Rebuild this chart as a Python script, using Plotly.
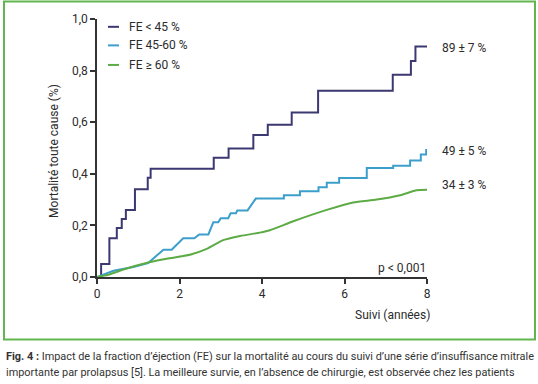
import plotly.graph_objects as go

# ---------------- data ----------------
series_names = ["FE < 45 %", "FE 45-60 %", "FE ≥ 60 %"]
series_colors = ["#3b3872", "#3c9fcb", "#5cab45"]

dark_x = [0, 0.1, 0.3, 0.48, 0.6, 0.7, 0.92, 1.23, 1.3, 2.83, 3.19, 3.79, 4.14, 4.72, 5.36, 7.17, 7.61, 7.72, 8.0]
dark_y = [0, 0.05, 0.15, 0.19, 0.225, 0.26, 0.34, 0.385, 0.42, 0.462, 0.498, 0.55, 0.59, 0.638, 0.722, 0.784, 0.837, 0.893, 0.893]

blue_x = [0, 0.2, 0.4, 0.88, 1.24, 1.61, 1.81, 2.09, 2.36, 2.48, 2.70, 2.82, 2.94, 3.0, 3.18, 3.24, 3.37, 3.40, 3.65,
          3.85, 4.53, 4.53, 4.92, 4.92, 5.37, 5.37, 5.57, 5.57, 5.87, 5.87, 6.54, 6.54, 7.18, 7.18, 7.59, 7.59, 7.85,
          7.85, 7.98, 7.98]
blue_y = [0, 0.012, 0.024, 0.039, 0.054, 0.106, 0.106, 0.150, 0.150, 0.165, 0.165, 0.212, 0.212, 0.228, 0.228, 0.247,
          0.247, 0.258, 0.258, 0.304, 0.304, 0.317, 0.317, 0.332, 0.332, 0.348, 0.348, 0.365, 0.365, 0.384, 0.384,
          0.422, 0.422, 0.431, 0.431, 0.452, 0.452, 0.475, 0.475, 0.496]

green_x = [0, 0.3, 0.64, 1.24, 1.69, 2.25, 2.66, 3.06, 3.47, 3.95, 4.19, 4.76, 5.57, 6.21, 6.78, 7.35, 7.75, 8.0]
green_y = [0, 0.010, 0.029, 0.056, 0.071, 0.086, 0.109, 0.143, 0.159, 0.172, 0.181, 0.216, 0.26, 0.289, 0.300, 0.317,
           0.336, 0.338]

end_labels = ["89 ± 7 %", "49 ± 5 %", "34 ± 3 %"]
end_label_y = [0.886, 0.4875, 0.355]

x_ticks = [0, 2, 4, 6, 8]
x_ticktext = ["0", "2", "4", "6", "8"]
y_ticks = [0, 0.2, 0.4, 0.6, 0.8, 1.0]
y_ticktext = ["0,0", "0,2", "0,4", "0,6", "0,8", "1,0"]

x_title = "Suivi (années)"
y_title = "Mortalité toute cause (%)"
p_text = "p < 0,001"
caption1 = ("<b>Fig. 4 :</b> Impact de la fraction d’éjection (FE) sur la mortalité au cours du suivi d’une série "
            "d’insuffisance mitrale")
caption2 = ("importante par prolapsus [5]. La meilleure survie, en l’absence de chirurgie, est observée chez les "
            "patients")

# ---------------- figure ----------------
W, H = 538, 384
L, R, T, B = 97, 427, 13, 277  # plot area in pixels


def px(x):
    return (x - L) / (R - L)


def py(y):
    return (B - y) / (B - T)


FONT = "Roboto"
TXT = "#2b2b2b"

fig = go.Figure()
fig.add_trace(go.Scatter(x=dark_x, y=dark_y, mode="lines", line=dict(color=series_colors[0], width=2, shape="hv"),
                         name=series_names[0], cliponaxis=False))
fig.add_trace(go.Scatter(x=blue_x, y=blue_y, mode="lines", line=dict(color=series_colors[1], width=2),
                         name=series_names[1], cliponaxis=False))
fig.add_trace(go.Scatter(x=green_x, y=green_y, mode="lines",
                         line=dict(color=series_colors[2], width=2, shape="spline", smoothing=0.6),
                         name=series_names[2], cliponaxis=False))

annotations = []
shapes = []

# manual legend
for i, (nm, col) in enumerate(zip(series_names, series_colors)):
    yy = [21, 40, 60][i]
    shapes.append(dict(type="line", xref="paper", yref="paper", x0=px(108), x1=px(119), y0=py(yy), y1=py(yy),
                       line=dict(color=col, width=2)))
    annotations.append(dict(xref="paper", yref="paper", x=px(127), y=py(yy), text=nm, showarrow=False,
                            xanchor="left", yanchor="middle", font=dict(family=FONT, size=12, color=TXT)))

# end labels
for lab, yv in zip(end_labels, end_label_y):
    annotations.append(dict(xref="paper", yref="y", x=px(440), y=yv, text=lab, showarrow=False,
                            xanchor="left", yanchor="middle", font=dict(family=FONT, size=12, color=TXT)))

annotations.append(dict(xref="paper", yref="paper", x=px(428), y=py(268), text=p_text, showarrow=False,
                        xanchor="right", yanchor="middle", font=dict(family=FONT, size=12, color=TXT)))
annotations.append(dict(xref="paper", yref="paper", x=px(432), y=py(316), text=x_title, showarrow=False,
                        xanchor="right", yanchor="middle", font=dict(family=FONT, size=12, color=TXT)))
annotations.append(dict(xref="paper", yref="paper", x=px(54), y=py(148), text=y_title, showarrow=False,
                        textangle=-90, xanchor="center", yanchor="middle",
                        font=dict(family=FONT, size=12, color=TXT)))

annotations.append(dict(xref="paper", yref="paper", x=px(4), y=py(358), text=caption1, showarrow=False,
                        xanchor="left", yanchor="middle", font=dict(family=FONT, size=10.9, color="#333333")))
annotations.append(dict(xref="paper", yref="paper", x=px(4), y=py(375), text=caption2, showarrow=False,
                        xanchor="left", yanchor="middle", font=dict(family=FONT, size=10.9, color="#333333")))

# green frame
shapes.append(dict(type="rect", xref="paper", yref="paper", x0=px(4), x1=px(535), y0=py(341), y1=py(-5),
                   line=dict(color="#62b64f", width=2), fillcolor="rgba(0,0,0,0)", layer="below"))

fig.update_layout(
    width=W, height=H,
    margin=dict(l=L, r=W - R, t=T, b=H - B, pad=0),
    paper_bgcolor="white", plot_bgcolor="white",
    showlegend=False,
    annotations=annotations, shapes=shapes,
    font=dict(family=FONT, size=12, color=TXT),
)
fig.update_xaxes(range=[0, 8], tickvals=x_ticks, ticktext=x_ticktext, showgrid=False, zeroline=False,
                 showline=True, linecolor="#333333", linewidth=1.5, ticks="outside", ticklen=5, tickwidth=1.5,
                 tickcolor="#333333", tickfont=dict(family=FONT, size=12, color=TXT))
fig.update_yaxes(range=[0, 1], tickvals=y_ticks, ticktext=y_ticktext, showgrid=False, zeroline=False,
                 showline=True, linecolor="#333333", linewidth=1.5, ticks="outside", ticklen=5, tickwidth=1.5,
                 tickcolor="#333333", tickfont=dict(family=FONT, size=12, color=TXT))

fig.write_html("out.html", config={"displayModeBar": False},
               post_script="document.body.style.margin='0';document.body.style.overflow='hidden';")
